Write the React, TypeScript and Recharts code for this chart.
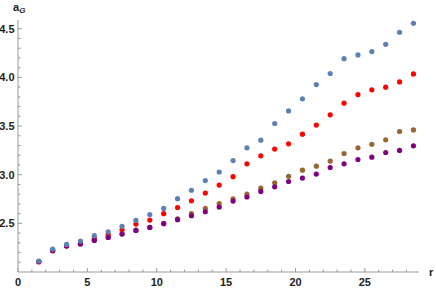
import { ScatterChart, Scatter, XAxis, YAxis } from 'recharts';

const R = [1.5, 2.5, 3.5, 4.5, 5.5, 6.5, 7.5, 8.5, 9.5, 10.5, 11.5, 12.5, 13.5, 14.5,
  15.5, 16.5, 17.5, 18.5, 19.5, 20.5, 21.5, 22.5, 23.5, 24.5, 25.5, 26.5, 27.5, 28.5];

const blueVals = [2.113, 2.236, 2.283, 2.318, 2.373, 2.413, 2.468, 2.53, 2.591, 2.653, 2.754, 2.84,
  2.94, 3.028, 3.145, 3.276, 3.355, 3.526, 3.656, 3.78, 3.926, 4.04, 4.193, 4.231, 4.265, 4.34, 4.464, 4.556];
const redVals = [2.103, 2.219, 2.267, 2.295, 2.345, 2.386, 2.434, 2.493, 2.534, 2.599, 2.663, 2.732,
  2.811, 2.893, 2.98, 3.112, 3.194, 3.263, 3.317, 3.417, 3.51, 3.615, 3.735, 3.824, 3.872, 3.9, 3.954, 4.036];
const brownVals = [2.108, 2.22, 2.27, 2.29, 2.33, 2.358, 2.392, 2.43, 2.46, 2.5, 2.545, 2.599,
  2.653, 2.704, 2.752, 2.8, 2.862, 2.917, 2.983, 3.047, 3.088, 3.14, 3.218, 3.276, 3.312, 3.358, 3.444, 3.46];
const purpleVals = [2.108, 2.22, 2.268, 2.288, 2.325, 2.355, 2.39, 2.427, 2.458, 2.497, 2.538, 2.578,
  2.619, 2.667, 2.729, 2.771, 2.828, 2.876, 2.93, 2.965, 3.006, 3.074, 3.112, 3.156, 3.18, 3.228, 3.25, 3.297];

const X_TICKS = [0, 1, 2, 3, 4, 5, 6, 7, 8, 9, 10, 11, 12, 13, 14, 15, 16, 17, 18, 19, 20,
  21, 22, 23, 24, 25, 26, 27, 28];
const X_LABELS = [0, 5, 10, 15, 20, 25];
const Y_TICKS = [2.1, 2.2, 2.3, 2.4, 2.5, 2.6, 2.7, 2.8, 2.9, 3.0, 3.1, 3.2, 3.3, 3.4, 3.5,
  3.6, 3.7, 3.8, 3.9, 4.0, 4.1, 4.2, 4.3, 4.4, 4.5];
const Y_LABELS = [2.5, 3.0, 3.5, 4.0, 4.5];

const toPts = (vals: number[]) => R.map((r, i) => ({ x: r, y: vals[i] }));

const AXIS = '#999';
const TXT = '#222';
const FONT = '"Liberation Sans", Arial, sans-serif';

const dot = (color: string) => (p: any) => <circle cx={p.cx} cy={p.cy} r={2.6} fill={color} />;

function XTick({ x, y, payload }: any) {
  const v = payload.value;
  const major = X_LABELS.includes(v);
  return (
    <g>
      <line x1={x} x2={x} y1={y} y2={y - (major ? 4 : 2.5)} stroke={AXIS} />
      {major && (
        <text x={x} y={y + 14} textAnchor="middle" fontSize={11} fontWeight="bold" fill={TXT} fontFamily={FONT}>{v}</text>
      )}
    </g>
  );
}

function YTick({ x, y, payload }: any) {
  const v = payload.value;
  const major = Y_LABELS.some(l => Math.abs(l - v) < 1e-6);
  return (
    <g>
      <line x1={x} x2={x + (major ? 4 : 2.5)} y1={y} y2={y} stroke={AXIS} />
      {major && (
        <text x={x - 3.5} y={y + 4} textAnchor="end" fontSize={11} fontWeight="bold" fill={TXT} fontFamily={FONT}>{v.toFixed(1)}</text>
      )}
    </g>
  );
}

export default function App() {
  return (
    <div style={{ position: 'absolute', left: 0, top: 0, width: 436, height: 290, background: '#fff' }}>
      <ScatterChart width={436} height={290} margin={{ top: 20, right: 17, bottom: 0, left: 0 }}>
        <XAxis type="number" dataKey="x" domain={[0, 28.9]} allowDataOverflow ticks={X_TICKS} interval={0}
          height={18} tickSize={0} tickMargin={0} tick={<XTick />} tickLine={false} axisLine={{ stroke: AXIS }} />
        <YAxis type="number" dataKey="y" domain={[2, 4.59]} allowDataOverflow ticks={Y_TICKS} interval={0}
          width={18} tickSize={0} tickMargin={0} tick={<YTick />} tickLine={false} axisLine={{ stroke: AXIS }} />
        <Scatter data={toPts(redVals)} shape={dot('#ff0000')} isAnimationActive={false} />
        <Scatter data={toPts(brownVals)} shape={dot('#996633')} isAnimationActive={false} />
        <Scatter data={toPts(purpleVals)} shape={dot('#800080')} isAnimationActive={false} />
        <Scatter data={toPts(blueVals)} shape={dot('#5e81b5')} isAnimationActive={false} />
      </ScatterChart>
      <svg width={436} height={290} style={{ position: 'absolute', left: 0, top: 0, pointerEvents: 'none' }}>
        <text x={13} y={11} fontSize={11} fontWeight="bold" fill={TXT} fontFamily={FONT}>
          a<tspan fontSize={8} fontStyle="italic" dy={2}>G</tspan>
        </text>
        <text x={429} y={276} fontSize={11} fontWeight="bold" fill={TXT} fontFamily={FONT}>r</text>
      </svg>
    </div>
  );
}
